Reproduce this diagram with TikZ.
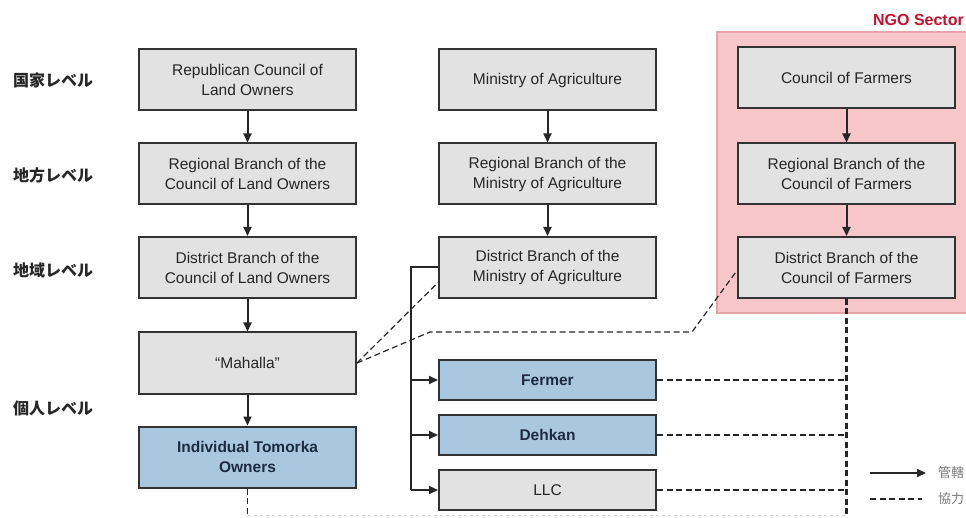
\documentclass[tikz,border=0pt]{standalone}
\usepackage{fontspec}
\setmainfont{Liberation Sans}
\newfontfamily\jp{Noto Sans CJK JP}
\usetikzlibrary{arrows.meta,calc}
\definecolor{boxgray}{HTML}{E2E2E2}
\definecolor{boxblue}{HTML}{A9C8DF}
\definecolor{edge}{HTML}{333333}
\definecolor{ngofill}{HTML}{F6C6C8}
\definecolor{ngoedge}{HTML}{E6A3A8}
\definecolor{ngored}{HTML}{C8102E}
\definecolor{bluetext}{HTML}{1E2A40}
\definecolor{leggray}{HTML}{7A7A7A}
\tikzset{
  orgbox/.style={draw=edge, line width=2pt, fill=boxgray, minimum width=217pt, minimum height=61pt, inner sep=0pt, align=center, font=\fontsize{15.5}{20}\selectfont, text=black!85},
  bluebox/.style={orgbox, fill=boxblue, font=\fontsize{15.5}{20}\selectfont\bfseries, text=bluetext},
  smallbox/.style={minimum height=40pt},
  lvl/.style={anchor=west, inner sep=0pt, font=\jp\bfseries\fontsize{16}{18}\selectfont, text=black!85},
  sub/.style={-{Triangle[length=9pt,width=8pt]}, line width=2pt, draw=black!85},
  coop/.style={dash pattern=on 6pt off 3.5pt, line width=1.2pt, draw=black!85},
  coopthick/.style={dash pattern=on 6pt off 3.5pt, line width=2.4pt, draw=black!85},
  faint/.style={dash pattern=on 3pt off 3pt, line width=1pt, draw=black!18},
  legtext/.style={anchor=west, inner sep=0pt, font=\jp\fontsize{13}{15}\selectfont, text=leggray}
}
\begin{document}
\begin{tikzpicture}[x=1pt,y=-1pt]
\useasboundingbox (0,0) rectangle (966,518);
% NGO sector background
\draw[fill=ngofill, draw=ngoedge, line width=1.2pt] (717,32) rectangle (985,313);
\node[anchor=east, inner sep=0pt, font=\bfseries\fontsize{16}{18}\selectfont, text=ngored] (ngo) at (964,20) {NGO Sector};
% level labels
\node[lvl] (l1) at (13,80) {国家レベル};
\node[lvl] (l2) at (13,175) {地方レベル};
\node[lvl] (l3) at (13,270) {地域レベル};
\node[lvl] (l4) at (13,408) {個人レベル};
% column 1
\node[orgbox] (a1) at (247.5,80) {Republican Council of\\Land Owners};
\node[orgbox] (a2) at (247.5,174) {Regional Branch of the\\Council of Land Owners};
\node[orgbox] (a3) at (247.5,267.5) {District Branch of the\\Council of Land Owners};
\node[orgbox] (mah) at (247.5,363) {``Mahalla''};
\node[bluebox] (ind) at (247.5,457) {Individual Tomorka\\Owners};
% column 2
\node[orgbox] (b1) at (547.5,80) {Ministry of Agriculture};
\node[orgbox] (b2) at (547.5,174) {Regional Branch of the\\Ministry of Agriculture};
\node[orgbox] (b3) at (547.5,267.5) {District Branch of the\\Ministry of Agriculture};
\node[bluebox, smallbox] (fer) at (547.5,380) {Fermer};
\node[bluebox, smallbox] (deh) at (547.5,435) {Dehkan};
\node[orgbox, smallbox] (llc) at (547.5,490) {LLC};
% column 3
\node[orgbox] (c1) at (846.5,78) {Council of Farmers};
\node[orgbox] (c2) at (846.5,174) {Regional Branch of the\\Council of Farmers};
\node[orgbox] (c3) at (846.5,267.5) {District Branch of the\\Council of Farmers};
% vertical arrows
\draw[sub] (a1) -- (a2);
\draw[sub] (a2) -- (a3);
\draw[sub] (a3) -- (mah);
\draw[sub] (mah) -- (ind);
\draw[sub] (b1) -- (b2);
\draw[sub] (b2) -- (b3);
\draw[sub] (c1) -- (c2);
\draw[sub] (c2) -- (c3);
% bus from district ministry
\coordinate (bus) at ($(b3.west)+(-27,0)$);
\draw[line width=2pt, draw=black!85] (b3.west) -- (bus) -- (bus |- llc.west);
\draw[sub] (bus |- fer.west) -- (fer.west);
\draw[sub] (bus |- deh.west) -- (deh.west);
\draw[sub] (bus |- llc.west) -- (llc.west);
% cooperation lines from Mahalla
\draw[coop] (mah.east) -- ($(b3.west)+(0,15)$);
\coordinate (m1) at (430,332);
\coordinate (m2) at (692,332);
\draw[coop] (mah.east) -- (m1) -- (m2) -- ($(c3.west)+(0,3)$);
% vertical cooperation from district farmers
\coordinate (vb) at (846.5,520);
\draw[coopthick] (c3.south) -- (vb);
\draw[coopthick] (fer.east) -- (c3.south |- fer.east);
\draw[coop] (deh.east) -- (c3.south |- deh.east);
\draw[coop] (llc.east) -- (c3.south |- llc.east);
% individual tomorka
\coordinate (ib) at (247.5,515);
\draw[coopthick, line width=1.8pt] (ind.south) -- (ib);
\draw[faint] (ib) -- (ib -| c3.south);
% legend
\coordinate (la1) at (870,473);
\coordinate (la2) at (926,473);
\coordinate (lb1) at (870,499);
\coordinate (lb2) at (922,499);
\draw[sub] (la1) -- (la2);
\draw[coop] (lb1) -- (lb2);
\node[legtext] (lt1) at (938,473) {管轄};
\node[legtext] (lt2) at (938,499) {協力};
\end{tikzpicture}
\end{document}
